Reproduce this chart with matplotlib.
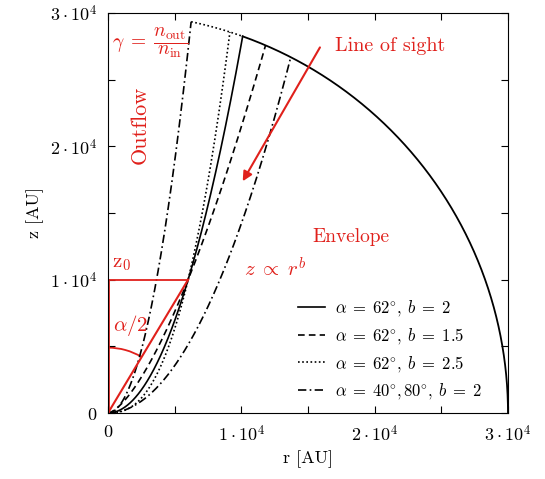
import numpy as np
import matplotlib
matplotlib.use("Agg")
import matplotlib.pyplot as plt
from matplotlib.patches import Arc

plt.rcParams['font.family'] = 'serif'
plt.rcParams['font.serif'] = ['cmr10']
plt.rcParams['mathtext.fontset'] = 'cm'
plt.rcParams['axes.unicode_minus'] = False
plt.rcParams['axes.formatter.use_mathtext'] = True

# ---- data ----
R_env = 3.0e4           # envelope radius [AU]
z0 = 1.0e4              # reference height [AU]
alphas = [62, 62, 62, 40, 80]          # opening angles [deg]
b_values = [2, 1.5, 2.5, 2, 2]         # power-law exponents
styles = ['-', '--', ':', '-.', '-.']
labels = [r'$\alpha\;=\;62\!^\circ\!,\;b\;=\;2$', r'$\alpha\;=\;62\!^\circ\!,\;b\;=\;1.5$',
          r'$\alpha\;=\;62\!^\circ\!,\;b\;=\;2.5$',
          r'$\alpha\;=\;40\!^\circ\!,80\!^\circ\!,\;b\;=\;2$', None]
tick_positions = [0, 5000, 10000, 15000, 20000, 25000, 30000]
tick_labels = ['$0$', '', r'$1\cdot10^4$', '', r'$2\cdot10^4$', '', r'$3\cdot10^4$']
red = '#e0201b'

fig = plt.figure(figsize=(5.45, 4.79), dpi=100)
ax = fig.add_axes([108/545, 1-413/479, 400/545, 400/479])


def end_r(r0, b):
    lo, hi = 0.0, R_env
    for _ in range(80):
        m = 0.5*(lo+hi)
        zz = z0*(m/r0)**b
        if m*m+zz*zz > R_env**2:
            hi = m
        else:
            lo = m
    return lo

ends = {}
for a, b, ls, lab in zip(alphas, b_values, styles, labels):
    r0 = z0*np.tan(np.radians(a/2))
    re = end_r(r0, b)
    ends[(a, b)] = re
    r = np.linspace(0, re, 800)
    z = z0*(r/r0)**b
    if ls == '-.':
        dash = dict(dashes=(5, 2, 1, 2))
    elif ls == '--':
        dash = dict(dashes=(4, 2.5))
    elif ls == ':':
        dash = dict(dashes=(1, 1.5))
    else:
        dash = {}
    ax.plot(r, z, color='black', lw=1.2, label=lab, **dash)

# envelope circle
r_s = ends[(62, 2)]
r_d = ends[(40, 2)]
th = np.linspace(np.arccos(r_s/R_env), 0, 400)
ax.plot(R_env*np.cos(th), R_env*np.sin(th), color='black', lw=1.3)
th2 = np.linspace(np.arccos(r_d/R_env), np.arccos(r_s/R_env), 100)
ax.plot(R_env*np.cos(th2), R_env*np.sin(th2), color='black', lw=1.2, dashes=(1, 1.5))

# red construction lines
r0_62 = z0*np.tan(np.radians(31))
ax.plot([0, r0_62], [z0, z0], color=red, lw=1.3)
ax.plot([0, r0_62], [0, z0], color=red, lw=1.5)
ax.plot([0, 0], [0, z0], color=red, lw=2)
arc = Arc((0, 0), 2*4900, 2*4900, theta1=59, theta2=90, color=red, lw=1.3)
ax.add_patch(arc)

ax.annotate('', xy=(10000, 17200), xytext=(16000, 27600),
            arrowprops=dict(arrowstyle='-|>', color=red, lw=1.5, mutation_scale=14))

ax.text(17000, 27500, 'Line of sight', color=red, fontsize=14.5, va='center', ha='left')
ax.text(300, 27750, r'$\gamma\;=\;\dfrac{n_{\rm out}}{n_{\rm in}}$', color=red, fontsize=14,
        va='center', ha='left')
ax.text(2400, 21600, 'Outflow', color=red, fontsize=16, rotation=90, va='center', ha='center')
ax.text(18200, 13200, 'Envelope', color=red, fontsize=14, va='center', ha='center')
ax.text(12500, 10800, r'$z\;\propto\;r^b$', color=red, fontsize=15, va='center', ha='center')
ax.text(300, 11200, r'$\mathrm{z}_0$', color=red, fontsize=15, va='center', ha='left')
ax.text(1700, 6600, r'$\alpha/2$', color=red, fontsize=15, va='center', ha='center')

ax.set_xlim(0, R_env)
ax.set_ylim(0, R_env)
ax.set_xticks(tick_positions)
ax.set_yticks(tick_positions)
ax.set_xticklabels(tick_labels)
ax.set_yticklabels(tick_labels)
ax.tick_params(direction='in', top=True, right=True, length=5, labelsize=13, pad=8)
ax.set_xlabel('r [AU]', fontsize=13)
ax.set_ylabel('z [AU]', fontsize=13)

h, l = ax.get_legend_handles_labels()
ax.legend(h[:4], l[:4], loc='lower left', bbox_to_anchor=(0.475, 0.03), frameon=False,
          fontsize=12, handlelength=1.6, handletextpad=0.6, labelspacing=0.45,
          borderpad=0, borderaxespad=0)

fig.savefig('out.png', dpi=100)
